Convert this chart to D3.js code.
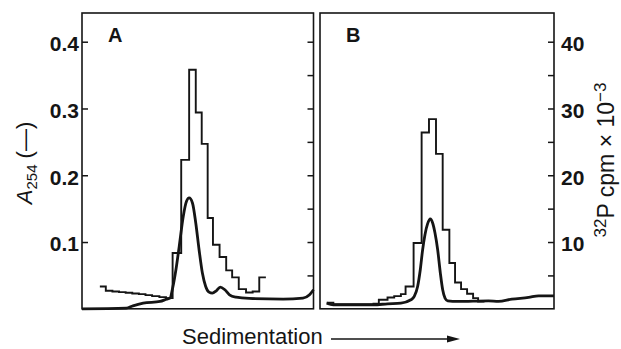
<!DOCTYPE html>
<meta charset="utf-8">
<style>
  body { margin: 0; background: #fff; }
  text { font-family: "Liberation Sans", Arial, Helvetica, sans-serif; fill: #151515; }
</style>

<svg id="chart" width="621" height="349"></svg>

<script src="https://d3js.org/d3.v7.min.js"></script>
<script>

    // --- data (x = fraction number along the gradient) ---
    const leftTicks  = [0.1, 0.2, 0.3, 0.4];
    const rightTicks = [5, 10, 15, 20, 25, 30, 35, 40];
    const rightLabels = [10, 20, 30, 40];

    // panel A: A254 trace
    const aFrac = [0, 6.7, 7.7, 9.25, 11.8, 12.8, 13.3, 13.7, 14.2, 14.7, 15.3, 15.8, 16.2, 16.7, 17.2, 17.7,
                   18.2, 18.7, 19.2, 19.7, 20.3, 20.9, 21.6, 22.3, 23.3, 25.3, 30.4, 33.4, 34.4, 35];
    const aA254 = [0, 0.001, 0.0045, 0.0085, 0.011, 0.0145, 0.016, 0.031, 0.0585, 0.0935, 0.138, 0.161, 0.166, 0.1585, 0.1285, 0.0885,
                   0.0535, 0.0335, 0.025, 0.0235, 0.027, 0.0325, 0.0285, 0.021, 0.0175, 0.0155, 0.0145, 0.016, 0.021, 0.0285];
    // panel A: 32P counts per fraction (step edges + values, cpm x 10^-3)
    const aEdges = [2.7, 3.6, 4.6, 5.6, 6.6, 7.6, 8.6, 9.6, 10.6, 11.7, 12.7, 13.7, 15.0, 16.2, 17.2, 18.1,
                    19.0, 19.8, 20.8, 21.8, 22.7, 23.7, 24.8, 25.8, 26.8, 27.8];
    const aCpm = [3.35, 2.7, 2.6, 2.5, 2.4, 2.3, 2.2, 2.05, 1.9, 1.75, 1.6, 8.35, 22.3, 35.8, 29.4,
                  24.7, 13.6, 9.6, 7.75, 5.75, 4.7, 2.95, 2.45, 2.6, 4.7];

    // panel B
    const bFrac = [1.0, 2.0, 8.0, 10.1, 12.1, 13.6, 14.1, 14.6, 15.0, 15.35, 15.7, 16.1, 16.5, 16.85, 17.2, 17.6,
                   18.0, 18.35, 18.7, 19.1, 20.6, 25.2, 26.7, 28.7, 31.2, 32.7, 35];
    const bA254 = [0.0085, 0.006, 0.006, 0.0075, 0.0085, 0.0135, 0.0185, 0.0335, 0.0585, 0.0885, 0.111, 0.1275, 0.1345, 0.1285, 0.1135, 0.0885,
                   0.0535, 0.0285, 0.016, 0.012, 0.011, 0.012, 0.011, 0.0145, 0.017, 0.0195, 0.0195];
    const bEdges = [1.0, 2.0, 3.0, 4.0, 5.0, 6.0, 7.0, 8.0, 8.8, 10.1, 11.1, 12.1, 12.8, 14.0, 15.2, 16.3,
                    17.35, 18.35, 19.35, 20.2, 21.1, 22.0, 22.9, 23.65, 24.6];
    const bCpm = [0.9, 0.7, 0.7, 0.7, 0.7, 0.7, 0.7, 0.75, 1.35, 1.7, 1.9, 2.2, 3.35, 9.85, 26.4, 28.4,
                  23.2, 11.85, 6.85, 3.95, 2.95, 2.25, 1.6, 1.1];

    const panels = [
        {label: "A", x0: 82,  x1: 313.5, frac: aFrac, a254: aA254, edges: aEdges, cpm: aCpm},
        {label: "B", x0: 320, x1: 554,   frac: bFrac, a254: bA254, edges: bEdges, cpm: bCpm}
    ];

    const yTop = 13, yBottom = 308.8;
    const yA = d3.scaleLinear().domain([0, 0.443]).range([yBottom, yTop]);
    const yP = d3.scaleLinear().domain([0, 44.3]).range([yBottom, yTop]);

    const svg = d3.select("#chart");
    const ink = "#151515";

    panels.forEach((p, i) => {
        const x = d3.scaleLinear().domain([0, 35]).range([p.x0, p.x1]);
        const g = svg.append("g");

        // 32P step histogram
        const steps = p.cpm.map((v, k) => [p.edges[k], v]);
        steps.push([p.edges[p.edges.length - 1], p.cpm[p.cpm.length - 1]]);
        g.append("path")
         .attr("d", d3.line().x(d => x(d[0])).y(d => yP(d[1])).curve(d3.curveStepAfter)(steps))
         .attr("fill", "none")
         .attr("stroke", ink)
         .attr("stroke-width", 1.9);

        // A254 trace
        const trace = p.frac.map((f, k) => [f, p.a254[k]]);
        g.append("path")
         .attr("d", d3.line().x(d => x(d[0])).y(d => yA(d[1])).curve(d3.curveMonotoneX)(trace))
         .attr("fill", "none")
         .attr("stroke", ink)
         .attr("stroke-width", 2.8);

        // frame
        g.append("rect")
         .attr("x", p.x0).attr("y", yTop)
         .attr("width", p.x1 - p.x0).attr("height", yBottom - yTop)
         .attr("fill", "none")
         .attr("stroke", ink)
         .attr("stroke-width", 1.6);

        // right-hand ticks (inward)
        const right = g.append("g")
            .attr("transform", `translate(${p.x1},0)`)
            .call(d3.axisRight(yP).tickValues(rightTicks).tickSize(-6).tickPadding(7)
                  .tickFormat(d => (i === 1 && rightLabels.includes(d)) ? d : ""));
        right.select(".domain").remove();
        right.selectAll("line").attr("stroke", ink).attr("stroke-width", 1.5);
        right.selectAll("text")
             .attr("dy", "0.42em")
             .style("font-size", "21px").style("font-weight", "bold")
             .style("font-family", "'Liberation Sans', Arial, sans-serif").attr("fill", ink);

        // panel letter
        g.append("text")
         .attr("x", x(0) + 26).attr("y", 42)
         .style("font-size", "20px").style("font-weight", "bold")
         .text(p.label);
    });

    // left axis on panel A
    const left = svg.append("g")
        .attr("transform", `translate(${panels[0].x0},0)`)
        .call(d3.axisLeft(yA).tickValues(leftTicks).tickSize(-6).tickPadding(3).tickFormat(d3.format(".1f")));
    left.select(".domain").remove();
    left.selectAll("line").attr("stroke", ink).attr("stroke-width", 1.5);
    left.selectAll("text")
        .attr("dy", "0.42em")
        .style("font-size", "21px").style("font-weight", "bold")
        .style("font-family", "'Liberation Sans', Arial, sans-serif").attr("fill", ink);

    // left axis title
    const yl = svg.append("text")
        .attr("transform", "translate(32,163) rotate(-90)")
        .attr("text-anchor", "middle")
        .style("font-size", "22px");
    yl.append("tspan").style("font-style", "italic").text("A");
    yl.append("tspan").attr("dy", 5).style("font-size", "15px").text("254");
    yl.append("tspan").attr("dy", -5).text(" (—)");

    // right axis title
    const yr = svg.append("text")
        .attr("transform", "translate(614,160) rotate(-90)")
        .attr("text-anchor", "middle")
        .style("font-size", "23px");
    yr.append("tspan").attr("dy", -8).style("font-size", "17px").text("32");
    yr.append("tspan").attr("dy", 8).text("P  cpm  ×  10");
    yr.append("tspan").attr("dy", -8).style("font-size", "17px").text("−3");

    // x caption with arrow
    svg.append("text")
       .attr("x", 182).attr("y", 344)
       .style("font-size", "22px")
       .text("Sedimentation");
    svg.append("line")
       .attr("x1", 331).attr("x2", 450).attr("y1", 339).attr("y2", 339)
       .attr("stroke", ink).attr("stroke-width", 1.6);
    svg.append("path")
       .attr("d", "M447,335.5 L460,339 L447,342.5 Z")
       .attr("fill", ink);

</script>
